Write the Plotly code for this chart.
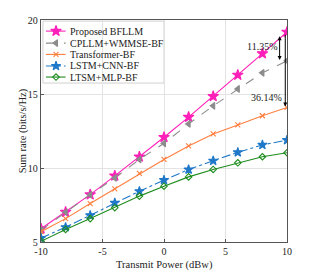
import plotly.graph_objects as go

power = [-10, -8, -6, -4, -2, 0, 2, 4, 6, 8, 10]
proposed = [5.9, 7.02, 8.2, 9.47, 10.76, 12.08, 13.44, 14.84, 16.29, 17.73, 19.19]
cpllm = [5.8, 7.02, 8.2, 9.33, 10.58, 11.67, 12.98, 14.2, 15.34, 16.43, 17.24]
transformer = [5.7, 6.58, 7.6, 8.59, 9.63, 10.58, 11.49, 12.3, 12.91, 13.53, 14.09]
lstm_cnn = [5.26, 6.0, 6.8, 7.64, 8.43, 9.18, 9.9, 10.49, 11.06, 11.56, 11.88]
ltsm_mlp = [5.05, 5.85, 6.58, 7.32, 8.1, 8.77, 9.4, 9.9, 10.35, 10.76, 11.03]

names = ["Proposed BFLLM", "CPLLM+WMMSE-BF", "Transformer-BF", "LSTM+CNN-BF", "LTSM+MLP-BF"]
series = [proposed, cpllm, transformer, lstm_cnn, ltsm_mlp]
colors = ["#FF1FB8", "#8C8C8C", "#FF7F3F", "#1F78C8", "#1E8C1E"]
dashes = ["solid", "dash", "solid", "dashdot", "solid"]
symbols = ["star", "triangle-left", "x-thin-open", "star", "diamond-open"]
sizes = [8, 6, 5, 7, 5]

FONT = "Liberation Serif"

fig = go.Figure()
for n, s, c, d, sym, sz in zip(names, series, colors, dashes, symbols, sizes):
    fig.add_trace(go.Scatter(
        x=power, y=s, name=n, mode="lines+markers", showlegend=False,
        line=dict(color=c, width=1.1, dash=d),
        marker=dict(symbol=sym, size=sz, color=c, line=dict(color=c, width=1.1)),
    ))

# compact legend (layout positions in plot-area fractions)
leg_y = [0.950, 0.896, 0.845, 0.793, 0.743]
fig.add_shape(type="rect", xref="paper", yref="paper", x0=0.008, x1=0.50, y0=0.716, y1=0.995,
              fillcolor="white", line=dict(color="#d0d0d0", width=1), layer="between")
for n, c, d, sym, sz, yy in zip(names, colors, dashes, symbols, sizes, leg_y):
    fig.add_shape(type="line", xref="paper", yref="paper", x0=0.02, x1=0.10, y0=yy, y1=yy,
                  line=dict(color=c, width=1.1, dash=d), layer="between")
    fig.add_trace(go.Scatter(x=[0.061], y=[yy], xaxis="x2", yaxis="y2", mode="markers",
                             showlegend=False, hoverinfo="skip",
                             marker=dict(symbol=sym, size=sz, color=c, line=dict(color=c, width=1.1))))
    fig.add_annotation(x=0.11, y=yy, xref="paper", yref="paper", text=n, showarrow=False,
                       xanchor="left", yanchor="middle", font=dict(family=FONT, size=10, color="#222"))

# annotation arrows
fig.add_annotation(x=9.4, y=17.3, ax=9.4, ay=19.0, xref="x", yref="y", axref="x", ayref="y",
                   showarrow=True, arrowhead=2, startarrowhead=2, arrowside="end+start",
                   arrowsize=0.8, arrowwidth=1, arrowcolor="black", text="")
fig.add_annotation(x=9.86, y=14.15, ax=9.86, ay=19.1, xref="x", yref="y", axref="x", ayref="y",
                   showarrow=True, arrowhead=2, arrowside="end",
                   arrowsize=0.8, arrowwidth=1, arrowcolor="black", text="")
fig.add_annotation(x=7.97, y=18.2, xref="x", yref="y", text="11.35%", showarrow=False,
                   font=dict(family=FONT, size=10, color="#222"))
fig.add_annotation(x=8.37, y=14.78, xref="x", yref="y", text="36.14%", showarrow=False,
                   font=dict(family=FONT, size=10, color="#222"))

# axis titles as annotations
fig.add_annotation(x=-0.072, y=0.5, xref="paper", yref="paper", text="Sum rate (bits/s/Hz)",
                   showarrow=False, textangle=-90, xanchor="center", yanchor="middle",
                   font=dict(family=FONT, size=10.5, color="#222"))
fig.add_annotation(x=0.5, y=-0.102, xref="paper", yref="paper", text="Transmit Power (dBw)",
                   showarrow=False, xanchor="center", yanchor="middle",
                   font=dict(family=FONT, size=10.5, color="#222"))

axis_common = dict(showgrid=True, gridcolor="#e3e3e3", gridwidth=1, zeroline=False,
                   showline=True, linecolor="#555555", linewidth=1.3, mirror=True,
                   ticks="inside", ticklen=3, tickcolor="#555555", automargin=False,
                   tickfont=dict(family=FONT, size=10, color="#222"))

fig.update_layout(
    width=317, height=273,
    margin=dict(l=41, r=30, t=20, b=31, autoexpand=False),
    paper_bgcolor="white", plot_bgcolor="white",
    font=dict(family=FONT, size=10, color="#222"),
    showlegend=False,
    xaxis=dict(range=[-10, 10], tickvals=[-10, -5, 0, 5, 10], ticktext=["-10", "-5", "0", "5", "10"],
               **axis_common),
    yaxis=dict(range=[5, 20], tickvals=[5, 10, 15, 20], **axis_common),
    xaxis2=dict(overlaying="x", range=[0, 1], visible=False, fixedrange=True),
    yaxis2=dict(overlaying="y", range=[0, 1], visible=False, fixedrange=True),
)

fig.write_html("out.html", config={"displayModeBar": False},
               post_script="document.body.style.margin='0';document.body.style.padding='0';")
